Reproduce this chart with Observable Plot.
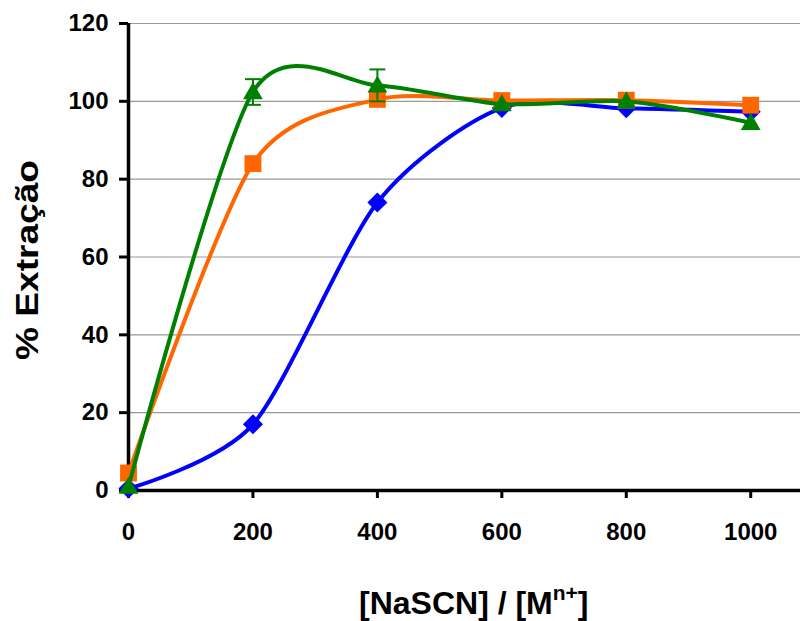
<!DOCTYPE html>
<html><head><meta charset="utf-8">
<script src="https://cdn.jsdelivr.net/npm/d3@7"></script>
<script src="https://cdn.jsdelivr.net/npm/@observablehq/plot@0.6"></script>
<style>body{margin:0;background:#fff}</style>
</head><body><div id="chart"></div>
<script>
const xValues = [0, 200, 400, 600, 800, 1000];
const blueValues = [0.5, 17, 74, 98.3, 98.2, 97.3];
const orangeValues = [4.5, 84, 100.5, 100.2, 100.3, 99];
const greenValues = [1, 102.4, 104.1, 99.3, 100, 94.5];
const greenErr = [0, 3.3, 4.1, 0, 0, 0];
const xTicks = [0, 200, 400, 600, 800, 1000];
const yTicks = [0, 20, 40, 60, 80, 100, 120];
const gridTicks = [20, 40, 60, 80, 100, 120];

const mk = (vals, s) => xValues.map((x, i) => ({x, y: vals[i], s, e: s === "green" ? greenErr[i] : 0}));
const blue = mk(blueValues, "blue");
const orange = mk(orangeValues, "orange");
const green = mk(greenValues, "green");
const errs = green.filter(d => d.e > 0);

const capSymbol = {draw(ctx, size) { const w = Math.sqrt(size); ctx.moveTo(-w, 0); ctx.lineTo(w, 0); }};
const diamondSymbol = {draw(ctx, size) { const h = Math.sqrt(size / 2); ctx.moveTo(0, -h); ctx.lineTo(h, 0); ctx.lineTo(0, h); ctx.lineTo(-h, 0); ctx.closePath(); }};
const triSymbol = {draw(ctx, size) { const s = Math.sqrt(size); ctx.moveTo(0, -s * 0.62); ctx.lineTo(s * 0.62, s * 0.45); ctx.lineTo(-s * 0.62, s * 0.45); ctx.closePath(); }};

const smooth = d3.curveCardinal.tension(0.2);
const C = {blue: "#0000ff", orange: "#ff6600", green: "#008000"};
const FONT = "Liberation Sans, Arial, sans-serif";

const chart = Plot.plot({
  width: 802, height: 621,
  marginLeft: 128, marginTop: 23, marginBottom: 131, marginRight: 2,
  style: {fontFamily: FONT, fontWeight: "bold", fontSize: "24px", color: "#000", background: "#fff"},
  x: {domain: [0, 1080], ticks: xTicks, label: null, tickFormat: d => String(d)},
  y: {domain: [0, 120], ticks: yTicks, label: null},
  marks: [
    Plot.ruleY(gridTicks, {stroke: "#999", strokeWidth: 1.2}),
    Plot.axisY({ticks: yTicks, tickSize: 9, tickPadding: 11, strokeWidth: 3, fontSize: 24, label: null}),
    Plot.axisX({ticks: xTicks, tickSize: 8, tickPadding: 24, strokeWidth: 3, fontSize: 24, label: null, tickFormat: d => String(d)}),
    Plot.ruleX([0], {stroke: "#000", strokeWidth: 3.5}),
    Plot.ruleY([0], {stroke: "#000", strokeWidth: 3.5}),
    Plot.line(blue, {x: "x", y: "y", stroke: C.blue, strokeWidth: 4, curve: smooth}),
    Plot.dot(blue, {x: "x", y: "y", symbol: diamondSymbol, fill: C.blue, r: 8}),
    Plot.line(orange, {x: "x", y: "y", stroke: C.orange, strokeWidth: 4, curve: smooth}),
    Plot.dot(orange, {x: "x", y: "y", symbol: "square", fill: C.orange, r: 9.5}),
    Plot.ruleX(errs, {x: "x", y1: d => d.y - d.e, y2: d => d.y + d.e, stroke: C.green, strokeWidth: 2}),
    Plot.dot(errs, {x: "x", y: d => d.y + d.e, symbol: capSymbol, stroke: C.green, strokeWidth: 2, r: 4.5}),
    Plot.dot(errs, {x: "x", y: d => d.y - d.e, symbol: capSymbol, stroke: C.green, strokeWidth: 2, r: 4.5}),
    Plot.line(green, {x: "x", y: "y", stroke: C.green, strokeWidth: 4, curve: smooth}),
    Plot.dot(green, {x: "x", y: "y", symbol: triSymbol, fill: C.green, r: 9})
  ]
});
document.getElementById("chart").appendChild(chart);

const svg = d3.select(chart);
const xl = svg.append("text")
  .attr("x", 359).attr("y", 614).attr("text-anchor", "start")
  .attr("font-family", FONT)
  .attr("font-weight", "bold").attr("font-size", 32).attr("fill", "#000");
xl.append("tspan").text("[NaSCN] / [M");
xl.append("tspan").attr("dy", -14).attr("font-size", 21).text("n+");
xl.append("tspan").attr("dy", 14).text("]");

svg.append("text")
  .attr("transform", "translate(38,260) rotate(-90)").attr("text-anchor", "middle")
  .attr("font-family", FONT)
  .attr("font-weight", "bold").attr("font-size", 32).attr("fill", "#000")
  .attr("textLength", 200).attr("lengthAdjust", "spacingAndGlyphs")
  .text("% Extração");
</script>
</body></html>
